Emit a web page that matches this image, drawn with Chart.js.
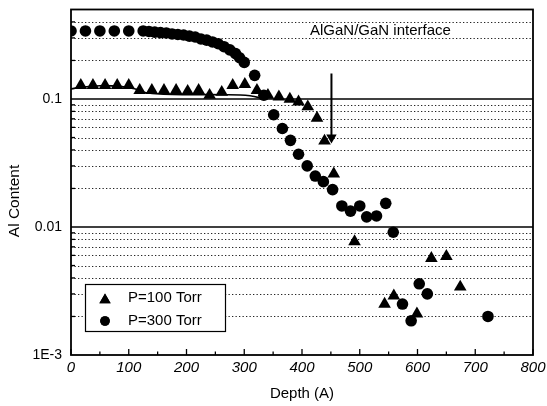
<!DOCTYPE html>
<html><head><meta charset="utf-8">
<script src="https://cdn.jsdelivr.net/npm/chart.js@4.4.0/dist/chart.umd.min.js"></script>
<style>html,body{margin:0;padding:0;background:#fff}#wrap{width:547px;height:406px}</style>
</head><body><div id="wrap"><canvas id="c" width="547" height="406"></canvas></div>
<script>
// P=100 Torr (triangles)
const depth100 = [17,38,59,80,100,119,140,161,182,202,221,240,261,280,301,322,341,360,379,394,410,426,439,455,491,543,559,599,624,650,674];
const al100    = [0.128,0.128,0.128,0.128,0.128,0.117,0.117,0.117,0.117,0.115,0.117,0.107,0.113,0.128,0.130,0.117,0.107,0.104,0.100,0.095,0.087,0.071,0.047,0.026,0.0077,0.0025,0.0029,0.0021,0.0057,0.0059,0.0034];
// P=300 Torr (circles)
const depth300 = [0,25,50,75,100,125,135,145,155,165,175,185,195,205,215,225,235,245,255,265,275,285,292,300,318,334,351,366,380,394,409,423,437,453,469,484,500,512,529,545,558,574,589,603,617,722];
const al300    = [0.34,0.34,0.34,0.34,0.34,0.34,0.337,0.333,0.33,0.328,0.322,0.319,0.316,0.31,0.305,0.294,0.288,0.279,0.27,0.256,0.242,0.226,0.21,0.193,0.153,0.107,0.0753,0.0588,0.0475,0.037,0.030,0.025,0.0226,0.0196,0.0146,0.0133,0.0146,0.012,0.0122,0.0153,0.0091,0.0025,0.00185,0.0036,0.003,0.002];
// guide curve under the P=100 data
const fitDepth = [0,20,50,80,110,130,160,200,260,310,335];
const fitAl    = [0.12,0.124,0.127,0.126,0.12,0.112,0.109,0.108,0.108,0.106,0.1];
// interface arrow
const arrowDepth = [451,451];
const arrowAl    = [0.158,0.05];
// axis ticks
const xTicks = [0,100,200,300,400,500,600,700,800];
const yMajor = [0.001,0.01,0.1];
const yLabels = ['1E-3','0.01','0.1'];
const seriesNames = ['P=100 Torr','P=300 Torr'];
const noteText = 'AlGaN/GaN interface';
const yTitle = 'Al Content';
const xTitle = 'Depth (A)';

const FONT = "'Liberation Sans', Arial, sans-serif";
Chart.defaults.font.family = FONT;
Chart.defaults.color = '#000';

const pts = (xs, ys) => xs.map((x, i) => ({x, y: ys[i]}));

const yMinor = [];
[-3,-2,-1].forEach(e => { for (let m = 2; m <= 9; m++) { const v = m * Math.pow(10, e); if (v < 0.5) yMinor.push(v); } });

const framePlugin = {
  id: 'frame',
  beforeDatasetsDraw(chart) {
    const {ctx, chartArea: a, scales: {x, y}} = chart;
    ctx.save();
    ctx.strokeStyle = '#222';
    ctx.lineWidth = 1;
    ctx.setLineDash([1.3, 2.2]);
    yMinor.forEach(v => {
      const py = Math.round(y.getPixelForValue(v)) + 0.5;
      ctx.beginPath(); ctx.moveTo(a.left, py); ctx.lineTo(a.right, py); ctx.stroke();
    });
    ctx.setLineDash([]);
    ctx.strokeStyle = '#000';
    ctx.lineWidth = 1.6;
    [0.01, 0.1].forEach(v => {
      const py = y.getPixelForValue(v);
      ctx.beginPath(); ctx.moveTo(a.left, py); ctx.lineTo(a.right, py); ctx.stroke();
    });
    ctx.restore();
  },
  afterDatasetsDraw(chart) {
    const {ctx, chartArea: a, scales: {x, y}} = chart;
    ctx.save();
    ctx.strokeStyle = '#000';
    ctx.lineWidth = 1.8;
    ctx.strokeRect(a.left, a.top, a.right - a.left, a.bottom - a.top);
    ctx.lineWidth = 1.3;
    yMinor.forEach(v => {
      const py = y.getPixelForValue(v);
      ctx.beginPath(); ctx.moveTo(a.left, py); ctx.lineTo(a.left + 4, py); ctx.stroke();
    });
    for (let d = 0; d <= 800; d += 50) {
      const px = x.getPixelForValue(d);
      const len = d % 100 === 0 ? 6 : 3.5;
      ctx.beginPath(); ctx.moveTo(px, a.bottom); ctx.lineTo(px, a.bottom - len); ctx.stroke();
    }
    ctx.restore();
  },
  afterDraw(chart) {
    const {ctx} = chart;
    ctx.save();
    ctx.fillStyle = '#000';
    ctx.font = '15px ' + FONT;
    ctx.textBaseline = 'middle';
    ctx.textAlign = 'left';
    ctx.fillText(noteText, 310, 31);
    ctx.save();
    ctx.translate(15, 201);
    ctx.rotate(-Math.PI / 2);
    ctx.textAlign = 'center';
    ctx.font = '15.5px ' + FONT;
    ctx.fillText(yTitle, 0, 0);
    ctx.restore();
    ctx.fillStyle = '#fff';
    ctx.fillRect(85, 284, 141, 48);
    ctx.strokeStyle = '#000';
    ctx.lineWidth = 1.2;
    ctx.strokeRect(85.5, 284.5, 140, 47);
    ctx.fillStyle = '#000';
    Chart.helpers.drawPoint(ctx, {pointStyle: 'triangle', radius: 6.5, rotation: 0, borderWidth: 0}, 105, 300);
    ctx.fill();
    Chart.helpers.drawPoint(ctx, {pointStyle: 'circle', radius: 4.8, rotation: 0, borderWidth: 0}, 105, 321);
    ctx.fill();
    ctx.fillStyle = '#000';
    ctx.font = '15px ' + FONT;
    ctx.textAlign = 'left';
    ctx.fillText(seriesNames[0], 128, 298);
    ctx.fillText(seriesNames[1], 128, 321);
    ctx.restore();
  }
};

new Chart(document.getElementById('c'), {
  type: 'scatter',
  data: {
    datasets: [
      {label: 'fit', data: pts(fitDepth, fitAl), showLine: true, borderColor: '#000', borderWidth: 1.6, pointRadius: 0, tension: 0.4, order: 3},
      {label: 'arrow', data: pts(arrowDepth, arrowAl), showLine: true, borderColor: '#000', borderWidth: 2, backgroundColor: '#000',
        pointRadius: [0, 4], pointStyle: 'triangle', pointRotation: 180, order: 2},
      {label: seriesNames[0], data: pts(depth100, al100), pointStyle: 'triangle', pointRadius: 7.3, backgroundColor: '#000', borderColor: '#000', borderWidth: 0, order: 1},
      {label: seriesNames[1], data: pts(depth300, al300), pointStyle: 'circle', pointRadius: 5.8, backgroundColor: '#000', borderColor: '#000', borderWidth: 0, order: 0}
    ]
  },
  options: {
    responsive: false,
    animation: false,
    devicePixelRatio: 1,
    layout: {padding: {top: 9.5, right: 14, left: 0, bottom: 0}},
    plugins: {legend: {display: false}, tooltip: {enabled: false}},
    scales: {
      x: {
        type: 'linear', min: 0, max: 800,
        afterBuildTicks: s => { s.ticks = xTicks.map(v => ({value: v})); },
        ticks: {font: {size: 15, style: 'italic'}, padding: 4, maxRotation: 0, color: '#000'},
        grid: {display: false, drawTicks: false},
        border: {display: false},
        title: {display: true, text: xTitle, font: {size: 15}, padding: {top: 0, bottom: 3}, color: '#000'},
        afterFit: s => { s.height = 51; s.paddingLeft = 0; s.paddingRight = 0; }
      },
      y: {
        type: 'logarithmic', min: 0.001, max: 0.5,
        afterBuildTicks: s => { s.ticks = yMajor.map(v => ({value: v})); },
        ticks: {font: {size: 14}, padding: 9, color: '#000',
          callback: (v) => { const i = yMajor.findIndex(m => Math.abs(m - v) / m < 1e-6); return i >= 0 ? yLabels[i] : ''; }},
        grid: {display: false, drawTicks: false},
        border: {display: false},
        afterFit: s => { s.width = 71; s.paddingTop = 0; s.paddingBottom = 0; }
      }
    }
  },
  plugins: [framePlugin]
});
</script>
</body></html>
